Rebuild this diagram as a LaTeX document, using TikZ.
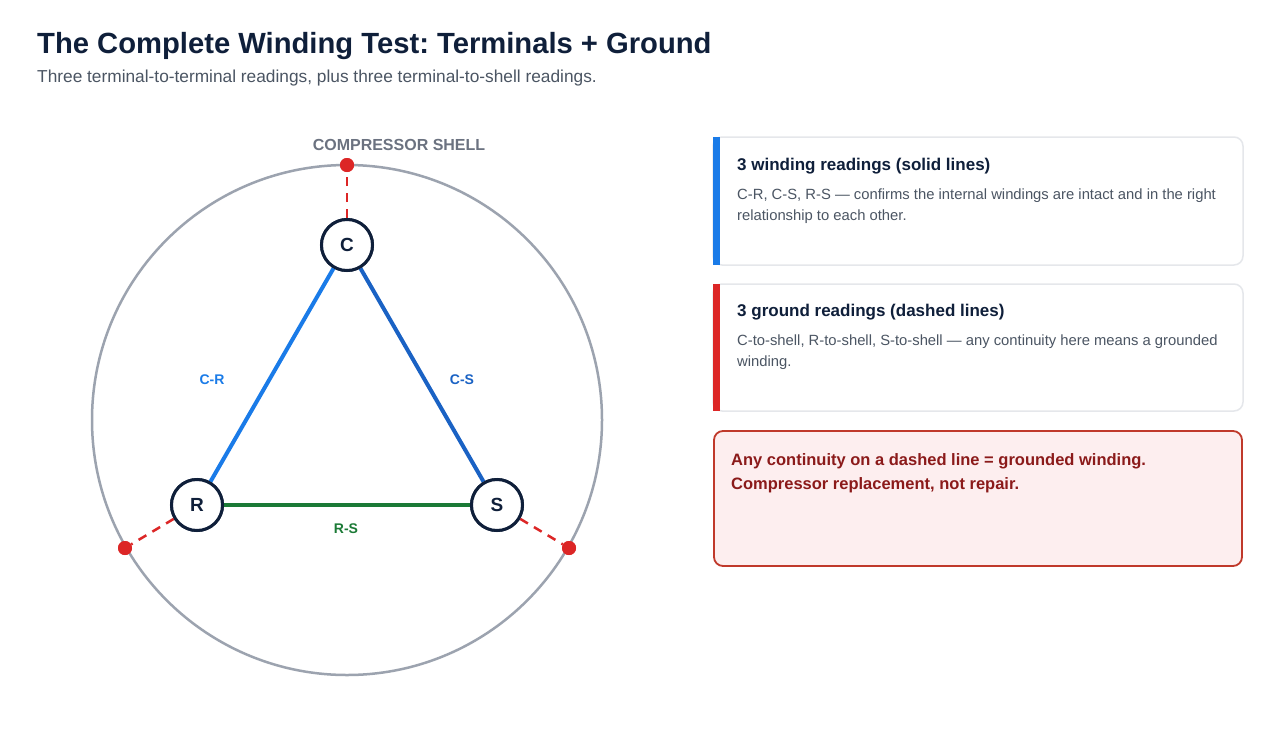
\documentclass[tikz,border=0pt]{standalone}
\usepackage{fontspec}
\setmainfont{Liberation Sans}
\usetikzlibrary{calc}
\definecolor{navy}{HTML}{0F1F3A}
\definecolor{subgray}{HTML}{4B5563}
\definecolor{shellgray}{HTML}{9CA3AF}
\definecolor{labgray}{HTML}{6B7280}
\definecolor{gred}{HTML}{DC2626}
\definecolor{blueA}{HTML}{1A7BE8}
\definecolor{blueB}{HTML}{1A62C4}
\definecolor{greenA}{HTML}{1B7A36}
\definecolor{cardborder}{HTML}{E5E7EB}
\definecolor{warnfill}{HTML}{FDEEEF}
\definecolor{warnborder}{HTML}{C0392B}
\definecolor{warntext}{HTML}{8B1A1A}
\definecolor{bodygray}{HTML}{4B5563}
\tikzset{
  term/.style={circle,draw=navy,line width=3pt,fill=white,minimum size=51pt,inner sep=0pt,font=\fontsize{19}{22}\selectfont\bfseries,text=navy},
  gdot/.style={circle,fill=gred,minimum size=14pt,inner sep=0pt},
  wire/.style={line width=4pt},
  gline/.style={draw=gred,line width=2.5pt,dash pattern=on 9pt off 7pt},
  wlabel/.style={font=\fontsize{14}{16}\selectfont\bfseries},
  card/.style={draw=cardborder,line width=1.5pt,rounded corners=9pt,fill=white},
  cardtitle/.style={anchor=base west,inner sep=0pt,font=\fontsize{17}{20}\selectfont\bfseries,text=navy},
  cardbody/.style={anchor=north west,inner sep=0pt,align=left,font=\fontsize{14.8}{21}\selectfont,text=bodygray},
}
\begin{document}
\frenchspacing
\begin{tikzpicture}[x=1pt,y=-1pt]
\useasboundingbox[fill=white] (0,0) rectangle (1280,750);
% title
\node[anchor=base west,inner sep=0pt,font=\fontsize{29.2}{34}\selectfont\bfseries,text=navy] (title) at (37,53) {The Complete Winding Test: Terminals + Ground};
\node[anchor=base west,inner sep=0pt,font=\fontsize{17.3}{20}\selectfont,text=subgray] (subtitle) at (37,82) {Three terminal-to-terminal readings, plus three terminal-to-shell readings.};
% shell
\node[circle,draw=shellgray,line width=2.5pt,minimum size=510pt,inner sep=0pt] (shell) at (347,420) {};
\node[font=\fontsize{16}{18}\selectfont\bfseries,text=labgray] (shelllab) at (399,145) {COMPRESSOR SHELL};
% terminals
\node[term] (C) at (347,245) {C};
\node[term] (R) at (197,505) {R};
\node[term] (S) at (497,505) {S};
% ground dots
\node[gdot] (gC) at (347,165) {};
\node[gdot] (gR) at (125,548) {};
\node[gdot] (gS) at (569,548) {};
% winding wires
\draw[wire,draw=blueA] (C) -- (R);
\draw[wire,draw=blueB] (C) -- (S);
\draw[wire,draw=greenA] (R) -- (S);
% ground lines
\draw[gline] (C) -- (gC);
\draw[gline] (R) -- (gR);
\draw[gline] (S) -- (gS);
% redraw terminals on top
\node[term] at (C) {C};
\node[term] at (R) {R};
\node[term] at (S) {S};
\node[gdot] at (gC) {};
\node[gdot] at (gR) {};
\node[gdot] at (gS) {};
% labels
\node[wlabel,text=blueA] (lCR) at (212,380) {C-R};
\node[wlabel,text=blueB] (lCS) at (462,380) {C-S};
\node[wlabel,text=greenA] (lRS) at (346,529) {R-S};
% card 1
\draw[card] (713,137) rectangle (1243,265);
\fill[blueA] (713,137) rectangle (720,265);
\node[cardtitle] (t1) at (737,170) {3 winding readings (solid lines)};
\node[cardbody] (b1) at (737,189) {C-R, C-S, R-S — confirms the internal windings are intact and in the right\\relationship to each other.};
% card 2
\draw[card] (713,284) rectangle (1243,411);
\fill[gred] (713,284) rectangle (720,411);
\node[cardtitle] (t2) at (737,316) {3 ground readings (dashed lines)};
\node[cardbody] (b2) at (737,335) {C-to-shell, R-to-shell, S-to-shell — any continuity here means a grounded\\winding.};
% card 3
\draw[draw=warnborder,line width=1.8pt,fill=warnfill,rounded corners=9pt] (714,431) rectangle (1242,566);
\node[anchor=north west,inner sep=0pt,align=left,font=\fontsize{16.5}{24}\selectfont\bfseries,text=warntext] (w) at (731,453) {Any continuity on a dashed line = grounded winding.\\Compressor replacement, not repair.};
\end{tikzpicture}
\end{document}
